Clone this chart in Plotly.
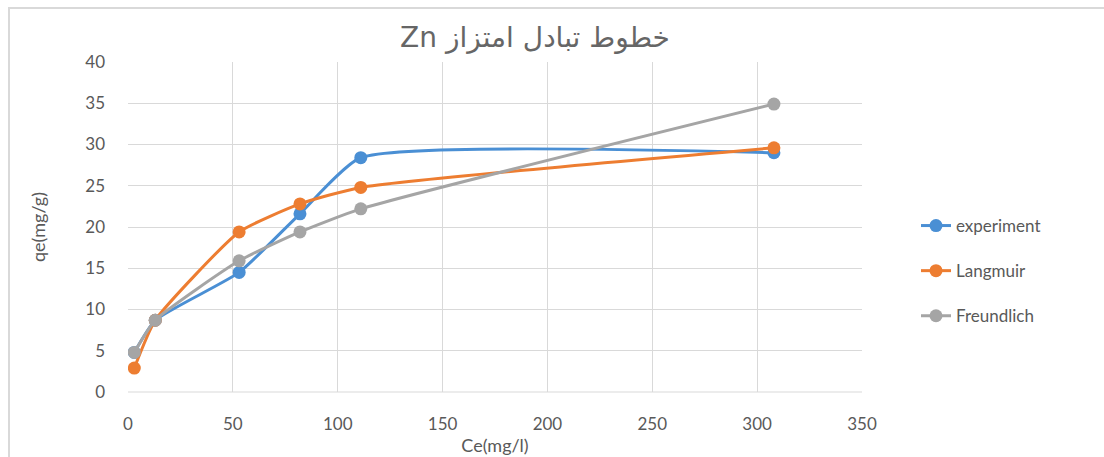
import plotly.graph_objects as go

# Equilibrium concentration Ce (mg/l) and uptake qe (mg/g)
ce = [3, 13, 53, 82, 111, 308]
qe_experiment = [4.8, 8.7, 14.5, 21.6, 28.4, 29.0]
qe_langmuir = [2.9, 8.7, 19.4, 22.8, 24.8, 29.6]
qe_freundlich = [4.8, 8.7, 15.9, 19.4, 22.2, 34.9]

series_names = ["experiment", "Langmuir", "Freundlich"]
series_colors = ["#4A8FD4", "#ED7D31", "#A5A5A5"]

x_ticks = [0, 50, 100, 150, 200, 250, 300, 350]
y_ticks = [0, 5, 10, 15, 20, 25, 30, 35, 40]

W, H = 1104, 457
L, R, T, B = 128, 242, 62, 65
FONT = "Lato, Open Sans, sans-serif"

fig = go.Figure()
for i, (name, ys, col) in enumerate(zip(series_names, [qe_experiment, qe_langmuir, qe_freundlich], series_colors)):
    fig.add_trace(go.Scatter(
        x=ce, y=ys, name=name, mode="lines+markers", legendgroup=f"g{i}",
        line=dict(color=col, width=3, shape="spline", smoothing=0.5),
        marker=dict(color=col, size=13),
    ))

pw = W - L - R
ph = H - T - B
def px_x(p):
    return (p - L) / pw
def px_y(p):
    return (H - B - p) / ph

# chart frame (top and left edges visible)
fig.add_shape(type="rect", xref="paper", yref="paper",
              x0=px_x(9), x1=px_x(1120), y0=px_y(8), y1=px_y(480),
              line=dict(color="#D9D9D9", width=2), fillcolor="rgba(0,0,0,0)", layer="below")

fig.update_layout(
    width=W, height=H,
    margin=dict(l=L, r=R, t=T, b=B, autoexpand=False),
    paper_bgcolor="white", plot_bgcolor="white",
    font=dict(family=FONT, color="#595959", size=17),
    title=dict(text="\u202bخطوط تبادل امتزاز Zn\u202c", x=535 / W, xanchor="center",
               y=1 - 37 / H, yanchor="middle",
               font=dict(size=28, color="#666666", family="DejaVu Sans, sans-serif")),
    showlegend=True,
    legend=dict(x=px_x(916), y=px_y(208), xanchor="left", yanchor="top",
                font=dict(size=17, color="#595959", family=FONT), tracegroupgap=20,
                bgcolor="rgba(0,0,0,0)"),
    xaxis=dict(range=[0, 350], tickvals=x_ticks, showgrid=True, gridcolor="#D9D9D9",
               zeroline=False, showline=False, ticks="", ticklabelstandoff=20,
               automargin=False,
               title=dict(text="Ce(mg/l)", standoff=6, font=dict(size=18)),
               tickfont=dict(size=17)),
    yaxis=dict(range=[0, 40], tickvals=y_ticks, showgrid=True, gridcolor="#D9D9D9",
               zeroline=False, showline=False, ticks="", ticklabelstandoff=22,
               automargin=False,
               title=dict(text="qe(mg/g)", standoff=34, font=dict(size=18)),
               tickfont=dict(size=17)),
)
fig.add_shape(type="line", xref="paper", yref="paper", x0=0, x1=1, y0=0, y1=0,
              line=dict(color="#D9D9D9", width=1))

fig.write_html("out.html")
